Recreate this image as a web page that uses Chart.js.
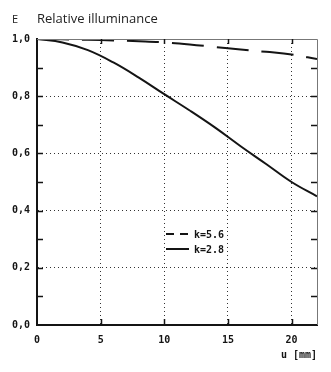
<!DOCTYPE html>
<html lang="en">
<head>
    <meta charset="UTF-8">
    <title>Relative illuminance</title>
    <script src="https://cdn.jsdelivr.net/npm/chart.js@4.4.0/dist/chart.umd.min.js"></script>
    <style>
        html, body { margin: 0; padding: 0; background: #fff; }
        #wrap { width: 331px; height: 372px; }
    </style>
</head>
<body>
<div id="wrap"><canvas id="chart" width="331" height="372"></canvas></div>

<script>
    // image height u in mm
    const uValues = [0, 2, 4, 6, 8, 10, 12, 14, 16, 18, 20, 22];
    // relative illuminance E for each aperture
    const eK56 = [1.0, 0.999, 0.997, 0.995, 0.992, 0.988, 0.981, 0.972, 0.963, 0.955, 0.946, 0.93];
    const eK28 = [1.0, 0.988, 0.961, 0.918, 0.865, 0.807, 0.75, 0.69, 0.625, 0.563, 0.50, 0.45];
    const xTicks = [0, 5, 10, 15, 20];
    const yTicks = [0, 0.2, 0.4, 0.6, 0.8, 1.0];
    const seriesLabels = ['k=5.6', 'k=2.8'];

    const ink = '#141414';
    const tickFont = { family: 'DejaVu Sans Mono', size: 10, weight: 'bold' };

    const toPoints = ys => uValues.map((u, i) => ({ x: u, y: ys[i] }));

    // frame, inside tick marks, heading and the key
    const decorations = {
        id: 'decorations',
        afterDraw(chart) {
            const ctx = chart.ctx;
            const a = chart.chartArea;
            const xs = chart.scales.x, ys = chart.scales.y;
            ctx.save();

            // top and right border
            ctx.strokeStyle = '#777';
            ctx.lineWidth = 1;
            ctx.beginPath();
            ctx.moveTo(a.left, a.top + 0.5);
            ctx.lineTo(a.right + 0.5, a.top + 0.5);
            ctx.lineTo(a.right + 0.5, a.bottom);
            ctx.stroke();

            // small ticks every 0.1 on both sides, every 5 mm top and bottom
            ctx.strokeStyle = ink;
            ctx.lineWidth = 1.5;
            ctx.beginPath();
            for (let i = 1; i < 10; i++) {
                const py = Math.round(ys.getPixelForValue(i / 10)) + 0.5;
                ctx.moveTo(a.left, py); ctx.lineTo(a.left + 6, py);
                ctx.moveTo(a.right, py); ctx.lineTo(a.right - 6, py);
            }
            xTicks.slice(1).forEach(v => {
                const px = Math.round(xs.getPixelForValue(v)) + 0.5;
                ctx.moveTo(px, a.bottom); ctx.lineTo(px, a.bottom - 6);
                ctx.moveTo(px, a.top); ctx.lineTo(px, a.top + 5);
            });
            ctx.stroke();

            // heading
            ctx.fillStyle = '#222';
            ctx.textBaseline = 'alphabetic';
            ctx.font = '11px "Open Sans"';
            ctx.fillText('E', 12, 23);
            ctx.font = '13px "Open Sans"';
            ctx.fillText('Relative illuminance', 37, 23);

            // key
            const kx = 166, ky = [234, 249];
            ctx.lineWidth = 2;
            ctx.strokeStyle = ink;
            ctx.beginPath();
            ctx.setLineDash([8, 6]);
            ctx.moveTo(kx, ky[0]); ctx.lineTo(kx + 22, ky[0]);
            ctx.stroke();
            ctx.setLineDash([]);
            ctx.beginPath();
            ctx.moveTo(kx, ky[1]); ctx.lineTo(kx + 23, ky[1]);
            ctx.stroke();
            ctx.fillStyle = ink;
            ctx.font = 'bold 10px "DejaVu Sans Mono"';
            ctx.textBaseline = 'middle';
            ctx.fillText(seriesLabels[0], kx + 28, ky[0] + 1);
            ctx.fillText(seriesLabels[1], kx + 28, ky[1] + 1);
            ctx.restore();
        }
    };

    const ctx = document.getElementById('chart').getContext('2d');
    const chart = new Chart(ctx, {
        type: 'line',
        data: {
            datasets: [{
                label: seriesLabels[0],
                data: toPoints(eK56),
                borderColor: ink,
                borderWidth: 2,
                borderDash: [32, 13],
                pointRadius: 0,
                tension: 0.4,
                fill: false
            }, {
                label: seriesLabels[1],
                data: toPoints(eK28),
                borderColor: ink,
                borderWidth: 2,
                pointRadius: 0,
                tension: 0.4,
                fill: false
            }]
        },
        options: {
            responsive: false,
            animation: false,
            events: [],
            layout: { padding: { top: 39, right: 14, left: 0, bottom: 11 } },
            plugins: {
                legend: { display: false },
                tooltip: { enabled: false }
            },
            scales: {
                x: {
                    type: 'linear',
                    min: 0,
                    max: 22,
                    afterBuildTicks: s => { s.ticks = xTicks.map(v => ({ value: v })); },
                    afterFit: s => { s.height = 36; },
                    ticks: {
                        color: ink,
                        font: tickFont,
                        padding: 9,
                        maxRotation: 0,
                        callback: v => String(v)
                    },
                    grid: {
                        color: c => (c.tick && c.tick.value > 0 ? '#333' : 'rgba(0,0,0,0)'),
                        lineWidth: 1,
                        drawTicks: false
                    },
                    border: { display: true, color: ink, width: 2, dash: [1, 3] },
                    title: {
                        display: true,
                        text: 'u [mm]',
                        align: 'end',
                        color: ink,
                        font: tickFont,
                        padding: { top: 2, bottom: 0 }
                    }
                },
                y: {
                    min: 0,
                    max: 1,
                    afterBuildTicks: s => { s.ticks = yTicks.map(v => ({ value: v })); },
                    afterFit: s => { s.width = 37; },
                    ticks: {
                        color: ink,
                        font: tickFont,
                        padding: 7,
                        callback: v => v.toFixed(1).replace('.', ',')
                    },
                    grid: {
                        color: c => (c.tick && c.tick.value > 0 && c.tick.value < 1 ? '#333' : 'rgba(0,0,0,0)'),
                        lineWidth: 1,
                        drawTicks: false
                    },
                    border: { display: true, color: ink, width: 2, dash: [1, 3] }
                }
            }
        },
        plugins: [decorations]
    });
</script>
</body>
</html>
